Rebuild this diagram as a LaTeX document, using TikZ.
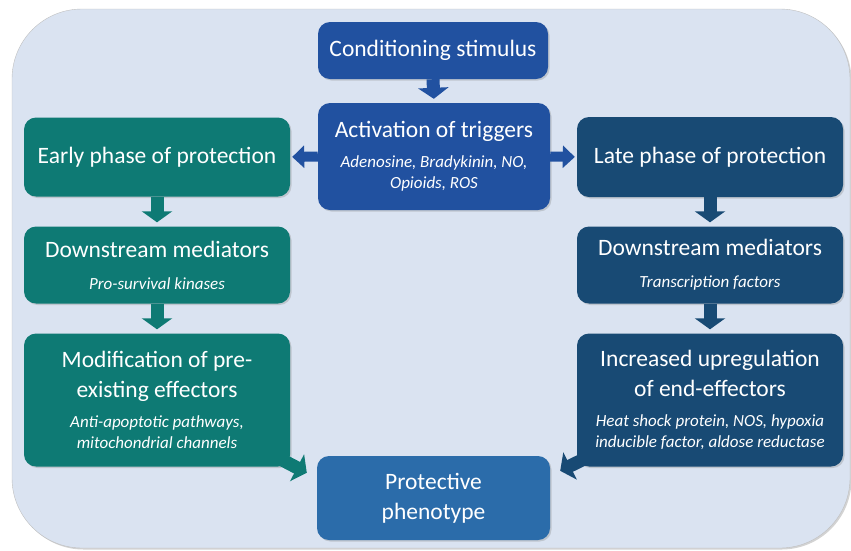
\documentclass[tikz,border=0pt]{standalone}
\usepackage{fontspec}
\setmainfont{Carlito}
\usetikzlibrary{shapes,arrows.meta,positioning,calc,shadows}

\definecolor{bgblue}{RGB}{218,227,241}
\definecolor{trigblue}{RGB}{33,81,160}
\definecolor{earlyteal}{RGB}{14,122,116}
\definecolor{latenavy}{RGB}{24,74,116}
\definecolor{protblue}{RGB}{43,108,170}

\tikzset{
  phase/.style={rectangle, rounded corners=12pt, text=white, align=center,
    font=\fontsize{23.5}{30}\selectfont, inner sep=2pt,
    drop shadow={shadow xshift=1.5pt, shadow yshift=-1.5pt, opacity=0.3}},
  blockarrow/.style={line width=13pt, -{Triangle[length=11pt, width=30pt]}},
  sidearrow/.style={line width=10pt, -{Triangle[length=12pt, width=22pt]}},
}
\newcommand{\subtxt}[1]{{\fontsize{17}{21}\selectfont\itshape #1}}

\begin{document}
\begin{tikzpicture}[x=1pt, y=-1pt]

\useasboundingbox (0,0) rectangle (851,550);
\draw[fill=bgblue, draw=black!25, rounded corners=70pt,
  drop shadow={shadow xshift=1.5pt, shadow yshift=-1.5pt, opacity=0.35}] (12,9) rectangle (850,548);

\node[phase, fill=trigblue, minimum width=230pt, minimum height=57pt] (cond) at (433, 50.5) {Conditioning stimulus};
\node[phase, fill=trigblue, minimum width=232pt, minimum height=107pt] (trig) at (434, 156.5)
  {Activation of triggers\\ \subtxt{Adenosine, Bradykinin, NO,}\\[-9pt] \subtxt{Opioids, ROS}};

\node[phase, fill=earlyteal, minimum width=266pt, minimum height=79pt] (early) at (157, 157) {Early phase of protection};
\node[phase, fill=earlyteal, minimum width=266pt, minimum height=77pt] (dsl) at (157, 265)
  {Downstream mediators\\[2pt] \subtxt{Pro-survival kinases}};
\node[phase, fill=earlyteal, minimum width=266pt, minimum height=133pt] (mod) at (157, 400)
  {Modification of pre-\\ existing effectors\\ \subtxt{Anti-apoptotic pathways,}\\[-9pt] \subtxt{mitochondrial channels}};

\node[phase, fill=latenavy, minimum width=266pt, minimum height=80pt] (late) at (710, 157) {Late phase of protection};
\node[phase, fill=latenavy, minimum width=266pt, minimum height=77pt] (dsr) at (710, 265)
  {Downstream mediators\\[2pt] \subtxt{Transcription factors}};
\node[phase, fill=latenavy, minimum width=266pt, minimum height=133pt] (upr) at (710, 400)
  {Increased upregulation\\ of end-effectors\\ \subtxt{Heat shock protein, NOS, hypoxia}\\[-9pt] \subtxt{inducible factor, aldose reductase}};

\node[phase, fill=protblue, minimum width=233pt, minimum height=84pt] (prot) at (433.5, 498)
  {Protective\\ phenotype};

\draw[blockarrow, trigblue, shorten >=4pt] (cond.south) -- (trig.north);
\draw[sidearrow, trigblue, shorten >=2pt] (trig.west) -- (early.east);
\draw[sidearrow, trigblue, shorten >=2pt] (trig.east) -- (late.west);
\draw[blockarrow, earlyteal, shorten >=4pt] (early.south) -- (dsl.north);
\draw[blockarrow, earlyteal, shorten >=4pt] (dsl.south) -- (mod.north);
\draw[blockarrow, latenavy, shorten >=4pt] (late.south) -- (dsr.north);
\draw[blockarrow, latenavy, shorten >=4pt] (dsr.south) -- (upr.north);

\coordinate (modtail) at ($(mod.south east)+(-20,-13)$);
\coordinate (modtip) at ($(prot.north west)+(-10,17)$);
\coordinate (uprtail) at ($(upr.south west)+(18,-13)$);
\coordinate (uprtip) at ($(prot.north east)+(10,15)$);
\draw[blockarrow, earlyteal] (modtail) -- (modtip);
\draw[blockarrow, latenavy] (uprtail) -- (uprtip);

\end{tikzpicture}
\end{document}
